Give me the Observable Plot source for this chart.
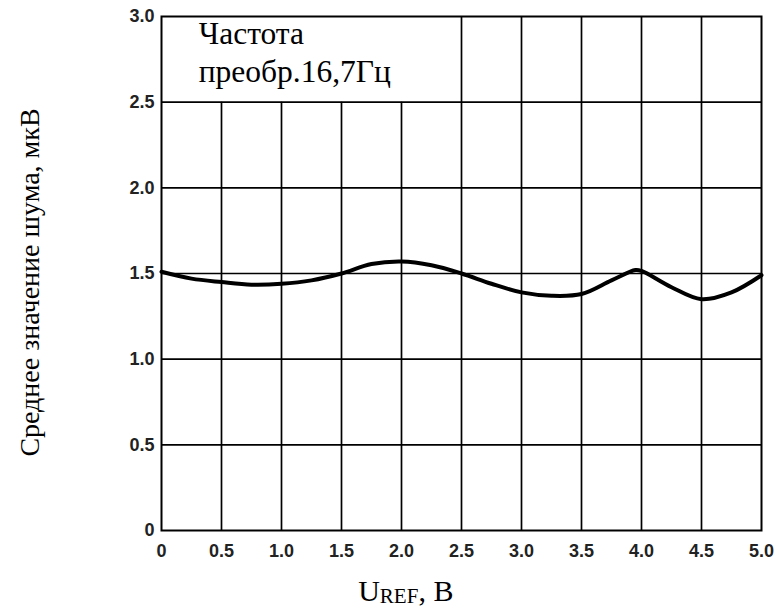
<!DOCTYPE html>
<html>
<head>
<meta charset="utf-8">
<script src="https://cdn.jsdelivr.net/npm/d3@7"></script>
<script src="https://cdn.jsdelivr.net/npm/@observablehq/plot@0.6"></script>
<style>
  html, body { margin: 0; padding: 0; background: #fff; }
  #chart svg { display: block; }
</style>
</head>
<body>
<div id="chart"></div>
<script>
// Curve values: U_REF (V) and mean noise (µV)
const uRef = [0, 0.25, 0.5, 0.75, 1.0, 1.25, 1.5, 1.75, 2.0, 2.25, 2.5, 2.75, 3.0, 3.25, 3.5, 3.75, 3.95, 4.0, 4.25, 4.5, 4.75, 5.0];
const noise = [1.51, 1.47, 1.45, 1.435, 1.44, 1.46, 1.50, 1.555, 1.57, 1.548, 1.50, 1.44, 1.39, 1.37, 1.38, 1.46, 1.52, 1.515, 1.42, 1.35, 1.39, 1.49];

// Tick values
const xTicks = [0, 0.5, 1.0, 1.5, 2.0, 2.5, 3.0, 3.5, 4.0, 4.5, 5.0];
const yTicks = [0, 0.5, 1.0, 1.5, 2.0, 2.5, 3.0];

// Annotation box (upper-left), its text lines
const boxLines = ["Частота", "преобр.16,7Гц"];
const boxRight = 2.5;   // gridlines left of this stop at boxBottom
const boxBottom = 2.5;

const yLabel = "Среднее значение шума, мкВ";

const data = uRef.map((u, i) => ({u, v: noise[i]}));
const fmt = d => d === 0 ? "0" : d.toFixed(1);

const gridV = xTicks.filter(t => t > 0 && t < 5).map(t => ({x: t, y2: t < boxRight ? boxBottom : 3}));
const gridH = yTicks.filter(t => t > 0 && t < 3);

const plot = Plot.plot({
  width: 779,
  height: 610,
  marginLeft: 161,
  marginRight: 18,
  marginTop: 16,
  marginBottom: 80,
  style: {background: "#fff", color: "#000"},
  x: {domain: [0, 5], ticks: xTicks, tickFormat: fmt, tickSize: 0, tickPadding: 14, label: null},
  y: {domain: [0, 3], ticks: yTicks, tickFormat: fmt, tickSize: 0, tickPadding: 7, label: null},
  marks: [
    Plot.ruleX(gridV, {x: "x", y1: 0, y2: "y2", stroke: "#000", strokeWidth: 1.7}),
    Plot.ruleY(gridH, {y: d => d, stroke: "#000", strokeWidth: 1.7}),
    Plot.frame({stroke: "#000", strokeWidth: 2}),
    Plot.line(data, {x: "u", y: "v", curve: "catmull-rom", stroke: "#000", strokeWidth: 4}),
    Plot.text([boxLines.join("\n")], {
      x: 0.31, y: 3, text: d => d, textAnchor: "start", lineAnchor: "top", dy: 0,
      lineHeight: 1.21, fontFamily: "Liberation Serif", fontSize: 31.5, fill: "#000"
    }),
    Plot.text([yLabel], {
      frameAnchor: "left", dx: -131, dy: 9, rotate: -90, text: d => d, textAnchor: "middle",
      fontFamily: "Liberation Serif", fontSize: 28, fill: "#000"
    })
  ]
});

const svg = d3.select(plot);
svg.selectAll("[aria-label='x-axis tick label'], [aria-label='y-axis tick label']")
  .attr("font-family", "Liberation Sans").attr("font-size", 18).attr("font-weight", "bold").attr("fill", "#222");

// x-axis title with subscript
const xs = plot.scale("x");
const xt = svg.append("text")
  .attr("x", xs.apply(2.04))
  .attr("y", 601)
  .attr("text-anchor", "middle")
  .attr("font-family", "Liberation Serif")
  .attr("font-size", 30)
  .attr("fill", "#000");
xt.append("tspan").text("U");
xt.append("tspan").attr("font-size", 21).attr("dy", 2).text("REF");
xt.append("tspan").attr("dy", -2).text(", В");

document.getElementById("chart").appendChild(plot);
</script>
</body>
</html>
